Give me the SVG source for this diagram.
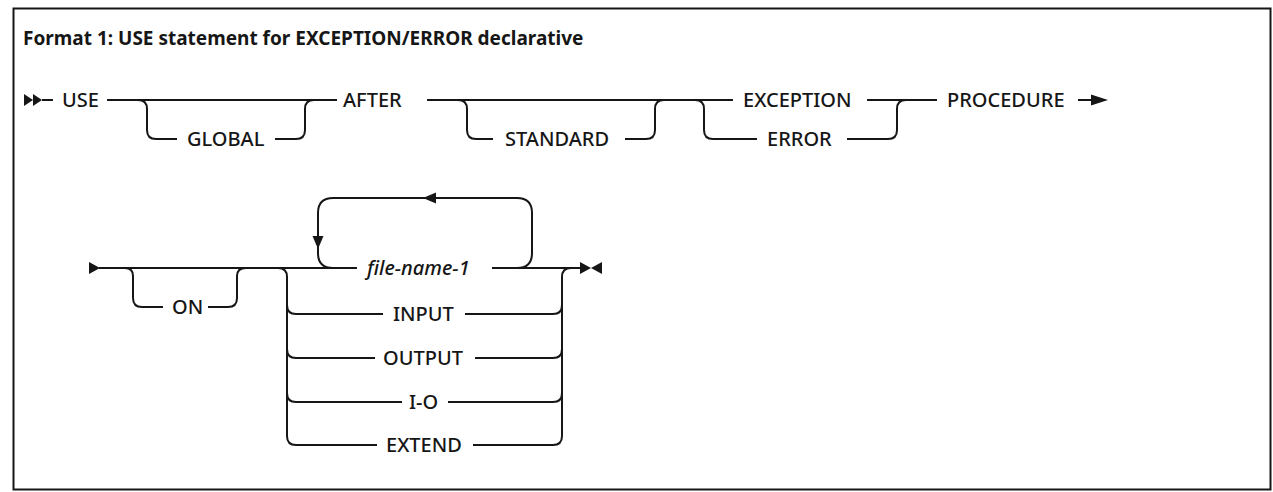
<svg xmlns="http://www.w3.org/2000/svg" width="1273" height="492" viewBox="0 0 1273 492">
<style>
.kw{font-family:"Noto Sans","Liberation Sans",sans-serif;font-size:20px;font-weight:500;fill:#161616}
.var{font-family:"Noto Sans","Liberation Sans",sans-serif;font-size:20px;font-weight:500;font-style:italic;fill:#161616}
.title{font-family:"Noto Sans","Liberation Sans",sans-serif;font-size:19px;font-weight:bold;fill:#161616}
.ln{fill:none;stroke:#161616;stroke-width:2}
.ah{fill:#161616;stroke:none}
</style>
<rect x="13.5" y="8.5" width="1257" height="481" fill="#fff" stroke="#161616" stroke-width="2"/>
<text class="title" x="23" y="45">Format 1: USE statement for EXCEPTION/ERROR declarative</text>
<g id="connectors">
<polygon class="ah" points="24,94 33,100 24,106"/>
<polygon class="ah" points="33,94 42,100 33,106"/>
<path class="ln" d="M42,100 L53,100"/>
<path class="ln" d="M107,100 L337,100"/>
<path class="ln" d="M138,100 Q147,100 147,109 L147,130 Q147,139 156,139 L177,139"/>
<path class="ln" d="M275,139 L296,139 Q305,139 305,130 L305,109 Q305,100 314,100"/>
<path class="ln" d="M427,100 L733,100"/>
<path class="ln" d="M458,100 Q467,100 467,109 L467,130 Q467,139 476,139 L493,139"/>
<path class="ln" d="M625,139 L646,139 Q655,139 655,130 L655,109 Q655,100 664,100"/>
<path class="ln" d="M695,100 Q704,100 704,109 L704,130 Q704,139 713,139 L757,139"/>
<path class="ln" d="M847,139 L888,139 Q897,139 897,130 L897,109 Q897,100 906,100"/>
<path class="ln" d="M867,100 L937,100"/>
<path class="ln" d="M1078,100 L1093,100"/>
<polygon class="ah" points="1091,94.5 1108,100 1091,105.5"/>
<polygon class="ah" points="89,262 100,268 89,274"/>
<path class="ln" d="M99,268 L357,268"/>
<path class="ln" d="M125,268 Q133,268 133,276 L133,298 Q133,307 142,307 L163,307"/>
<path class="ln" d="M208,307 L228,307 Q237,307 237,298 L237,276 Q237,268 246,268"/>
<path class="ln" d="M278,268 Q287,268 287,277 L287,436 Q287,445 296,445 L377,445"/>
<path class="ln" d="M287,305 Q287,314 296,314 L383,314"/>
<path class="ln" d="M287,349 Q287,358 296,358 L375,358"/>
<path class="ln" d="M287,393 Q287,402 296,402 L402,402"/>
<path class="ln" d="M333,268 Q318,268 318,253 L318,213 Q318,198 333,198 L517,198 Q532,198 532,213 L532,253 Q532,268 517,268"/>
<polygon class="ah" points="312.5,236 323.5,236 318,249"/>
<polygon class="ah" points="436,192.5 436,203.5 423,198"/>
<path class="ln" d="M492,268 L582,268"/>
<path class="ln" d="M465,314 L553,314 Q562,314 562,305"/>
<path class="ln" d="M562,436 L562,277 Q562,268 571,268"/>
<path class="ln" d="M475,358 L553,358 Q562,358 562,349"/>
<path class="ln" d="M448,402 L553,402 Q562,402 562,393"/>
<path class="ln" d="M473,445 L553,445 Q562,445 562,436"/>
<polygon class="ah" points="580,262 591,268 580,274"/>
<polygon class="ah" points="602,262 591,268 602,274"/>
</g>
<g id="node-use"><text class="kw" x="62" y="107">USE</text></g>
<g id="node-global"><text class="kw" x="187" y="146">GLOBAL</text></g>
<g id="node-after"><text class="kw" x="343" y="107">AFTER</text></g>
<g id="node-standard"><text class="kw" x="505" y="146">STANDARD</text></g>
<g id="node-exception"><text class="kw" x="743" y="107">EXCEPTION</text></g>
<g id="node-error"><text class="kw" x="767" y="146">ERROR</text></g>
<g id="node-procedure"><text class="kw" x="947" y="107">PROCEDURE</text></g>
<g id="node-on"><text class="kw" x="172" y="314">ON</text></g>
<g id="node-file-name-1"><text class="var" x="367" y="275">file-name-1</text></g>
<g id="node-input"><text class="kw" x="393" y="321">INPUT</text></g>
<g id="node-output"><text class="kw" x="383" y="365">OUTPUT</text></g>
<g id="node-i-o"><text class="kw" x="409" y="409">I-O</text></g>
<g id="node-extend"><text class="kw" x="386" y="452">EXTEND</text></g>
</svg>
